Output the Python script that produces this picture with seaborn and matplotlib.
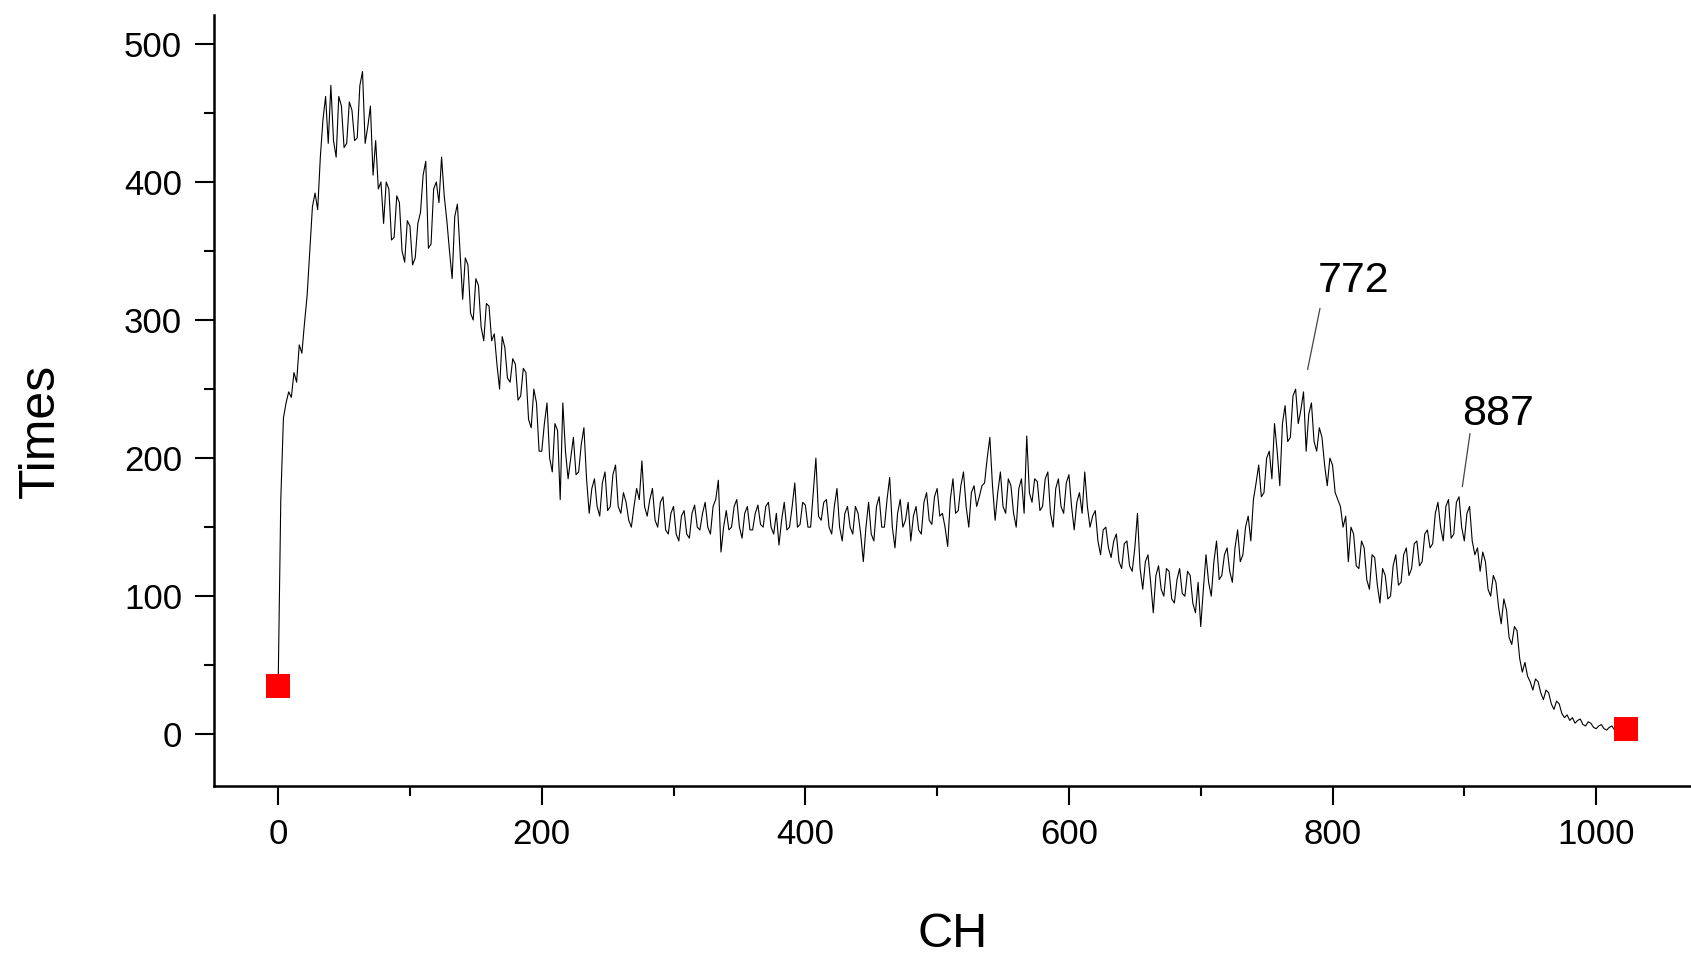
import numpy as np
import pandas as pd
import matplotlib
matplotlib.use("Agg")
import matplotlib.pyplot as plt
from matplotlib.ticker import MultipleLocator
import seaborn as sns

# ---- data ----
channel_step = 2
counts = [
    35, 170, 229, 240, 248, 244, 262, 255, 282, 276, 298, 318, 350, 382, 392, 380, 418, 445, 462, 428,   # 0-38
    470, 430, 418, 462, 455, 425, 428, 458, 452, 430, 432, 470, 480, 428, 440, 455, 405, 430, 395, 400,  # 40-78
    370, 400, 395, 358, 360, 390, 385, 350, 342, 372, 368, 340, 345, 370, 378, 405, 415, 352, 355, 395,  # 80-118
    400, 385, 418, 390, 372, 350, 330, 375, 384, 350, 315, 345, 340, 305, 300, 330, 325, 295, 285, 312,  # 120-158
    310, 285, 290, 268, 250, 288, 280, 258, 255, 272, 268, 242, 245, 265, 262, 228, 222, 250, 240, 205,  # 160-198
    205, 225, 240, 200, 190, 225, 220, 170, 240, 205, 185, 200, 215, 188, 190, 210, 222, 185, 160, 178,  # 200-238
    185, 165, 158, 182, 190, 162, 165, 188, 195, 165, 160, 175, 168, 155, 150, 165, 178, 170, 198, 165,  # 240-278
    158, 170, 178, 155, 150, 168, 172, 148, 145, 160, 165, 145, 140, 158, 162, 145, 142, 160, 166, 150,  # 280-318
    148, 160, 168, 150, 145, 165, 170, 184, 132, 150, 162, 148, 150, 165, 170, 150, 142, 160, 165, 148,  # 320-358
    148, 160, 166, 152, 150, 165, 168, 150, 145, 160, 137, 155, 168, 148, 150, 165, 182, 150, 152, 168,  # 360-398
    166, 150, 150, 175, 200, 158, 155, 168, 170, 150, 145, 165, 178, 150, 140, 160, 165, 150, 145, 165,  # 400-438
    160, 145, 125, 150, 168, 145, 140, 165, 172, 150, 150, 170, 186, 150, 135, 160, 170, 150, 155, 168,  # 440-478
    140, 158, 165, 148, 145, 168, 175, 155, 152, 172, 178, 158, 160, 150, 136, 170, 185, 160, 162, 180,  # 480-518
    190, 165, 150, 175, 180, 165, 172, 180, 182, 200, 215, 180, 155, 175, 190, 165, 160, 185, 180, 160,  # 520-558
    150, 178, 185, 160, 216, 175, 168, 185, 183, 162, 165, 185, 190, 160, 150, 178, 185, 165, 160, 182,  # 560-598
    188, 165, 148, 168, 175, 160, 190, 165, 150, 158, 162, 140, 130, 148, 150, 135, 128, 140, 145, 125,  # 600-638
    120, 138, 140, 122, 118, 135, 160, 120, 105, 125, 130, 110, 88, 115, 122, 105, 100, 120, 118, 98,    # 640-678
    95, 112, 120, 102, 100, 118, 115, 95, 88, 110, 78, 105, 130, 110, 100, 125, 140, 112, 115, 130,      # 680-718
    135, 118, 110, 135, 148, 125, 130, 150, 158, 140, 170, 182, 195, 172, 175, 200, 205, 185, 225, 205,  # 720-758
    180, 225, 238, 212, 215, 245, 250, 225, 235, 248, 205, 232, 240, 212, 205, 222, 215, 195, 180, 200,  # 760-798
    195, 175, 170, 165, 150, 158, 125, 150, 145, 122, 120, 140, 135, 112, 105, 130, 128, 108, 95, 120,   # 800-838
    115, 98, 100, 122, 130, 108, 110, 130, 135, 115, 120, 138, 140, 122, 125, 145, 148, 135, 138, 160,   # 840-878
    168, 150, 140, 165, 170, 142, 145, 168, 172, 150, 140, 160, 165, 140, 130, 135, 118, 132, 125, 105,  # 880-918
    100, 115, 110, 92, 80, 98, 90, 70, 65, 78, 75, 55, 45, 52, 42, 38, 32, 40, 38, 30,                  # 920-958
    25, 32, 30, 22, 18, 24, 22, 15, 12, 14, 10, 12, 8, 10, 11, 7, 6, 9, 8, 5,                           # 960-998
    4, 6, 7, 4, 3, 5, 6, 3, 4, 6, 5,                                                                     # 1000-1020
]
last_channel = 1023
last_count = 4

peak_labels = ["772", "887"]
peak_text_xy = [(815.8, 320.0), (925.9, 224.2)]
peak_line_start = [(790.5, 308.5), (904.3, 217.8)]
peak_line_end = [(781.1, 264.2), (898.5, 179.3)]

x_label = "CH"
y_label = "Times"

# ---- build table ----
channels = list(np.arange(len(counts)) * channel_step) + [last_channel]
values = counts + [last_count]
df = pd.DataFrame({"CH": channels, "Times": values})
ends = df.iloc[[0, -1]]

sns.set_theme(style="ticks")
plt.rcParams["font.family"] = ["Liberation Sans", "DejaVu Sans"]
plt.rcParams.update({
    "text.color": "black", "axes.labelcolor": "black",
    "xtick.color": "black", "ytick.color": "black",
    "axes.edgecolor": "black",
})

fig = plt.figure(figsize=(16.91, 9.59), dpi=100)
ax = fig.add_axes([0.1263, 0.1804, 0.8737, 0.804])

sns.lineplot(data=df, x="CH", y="Times", ax=ax, color="black", lw=0.8,
             estimator=None, sort=False, zorder=2)
sns.scatterplot(data=ends, x="CH", y="Times", ax=ax, marker="s", s=300,
                color="#ff0000", linewidth=0, zorder=3)

for lab, txy, ls, le in zip(peak_labels, peak_text_xy, peak_line_start, peak_line_end):
    ax.text(txy[0], txy[1], lab, ha="center", va="baseline", fontsize=31)
    ax.plot([ls[0], le[0]], [ls[1], le[1]], color="#444444", lw=0.9)

ax.set_xlim(-49, 1072)
ax.set_ylim(-37.5, 521)
ax.xaxis.set_major_locator(MultipleLocator(200))
ax.xaxis.set_minor_locator(MultipleLocator(100))
ax.yaxis.set_major_locator(MultipleLocator(100))
ax.yaxis.set_minor_locator(MultipleLocator(50))
ax.tick_params(which="major", direction="out", length=13.7, width=1.5,
               labelsize=25, pad=9)
ax.tick_params(which="minor", direction="out", length=7.2, width=1.5)

sns.despine(ax=ax)
for s in ["left", "bottom"]:
    ax.spines[s].set_linewidth(1.8)

ax.set_xlabel(x_label, fontsize=35)
ax.set_ylabel(y_label, fontsize=36)
ax.xaxis.set_label_coords(0.5, -0.163)
ax.yaxis.set_label_coords(-0.101, 0.46)

fig.savefig("out.png", dpi=100)
